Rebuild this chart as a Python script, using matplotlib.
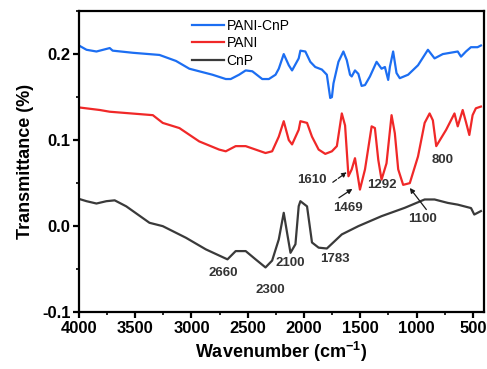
"""FTIR spectra of CnP, PANI and the PANI-CnP composite."""

import matplotlib

matplotlib.use("Agg")
import matplotlib.pyplot as plt  # noqa: E402
from matplotlib.ticker import MultipleLocator  # noqa: E402

pani_cnp_wn = [4000, 3932, 3844, 3726, 3700, 3520, 3284, 3137, 3019, 2931, 2813, 2695, 2651,
               2577, 2518, 2459, 2371, 2312, 2253, 2224, 2180, 2135, 2106, 2047, 2032, 1988,
               1944, 1900, 1841, 1797, 1767, 1752, 1738, 1694, 1650, 1620, 1591, 1576, 1547,
               1517, 1488, 1458, 1414, 1355, 1311, 1281, 1252, 1237, 1208, 1178, 1149, 1075,
               987, 899, 840, 767, 634, 605, 561, 517, 458, 428]
pani_cnp_t = [0.210, 0.205, 0.203, 0.207, 0.204, 0.2015, 0.199, 0.192, 0.183, 0.180, 0.176,
              0.171, 0.171, 0.176, 0.181, 0.180, 0.171, 0.171, 0.176, 0.183, 0.200, 0.187,
              0.181, 0.195, 0.204, 0.203, 0.191, 0.185, 0.182, 0.176, 0.149, 0.150, 0.166,
              0.191, 0.203, 0.193, 0.176, 0.174, 0.181, 0.177, 0.163, 0.164, 0.174, 0.191,
              0.183, 0.185, 0.170, 0.185, 0.203, 0.178, 0.172, 0.176, 0.187, 0.205, 0.195,
              0.200, 0.203, 0.197, 0.203, 0.208, 0.208, 0.210]

pani_wn = [4000, 3814, 3726, 3343, 3255, 3107, 2931, 2754, 2695, 2607, 2518, 2342, 2283,
           2224, 2180, 2135, 2106, 2047, 2032, 1973, 1929, 1870, 1811, 1752, 1708, 1664,
           1635, 1605, 1576, 1547, 1503, 1458, 1399, 1370, 1340, 1311, 1267, 1222, 1193,
           1163, 1119, 1060, 987, 928, 884, 855, 825, 737, 663, 634, 590, 561, 531, 502,
           473, 428]
pani_t = [0.138, 0.135, 0.133, 0.129, 0.120, 0.114, 0.0985, 0.089, 0.087, 0.093, 0.093,
          0.085, 0.087, 0.104, 0.122, 0.100, 0.095, 0.112, 0.122, 0.120, 0.104, 0.089,
          0.084, 0.087, 0.093, 0.131, 0.117, 0.058, 0.066, 0.079, 0.0425, 0.066, 0.116,
          0.114, 0.077, 0.054, 0.073, 0.129, 0.108, 0.066, 0.048, 0.050, 0.081, 0.120,
          0.131, 0.123, 0.093, 0.112, 0.131, 0.116, 0.135, 0.121, 0.106, 0.129, 0.137,
          0.139]

cnp_wn = [4000, 3932, 3844, 3756, 3682, 3579, 3373, 3255, 3049, 2872, 2680, 2607, 2518,
          2430, 2342, 2283, 2224, 2180, 2150, 2120, 2076, 2047, 2032, 1973, 1929, 1870,
          1797, 1664, 1517, 1311, 1105, 928, 840, 722, 634, 516, 487, 428]
cnp_t = [0.0317, 0.029, 0.0263, 0.029, 0.030, 0.023, 0.0039, 0.000, -0.0135, -0.027,
         -0.0386, -0.029, -0.029, -0.0386, -0.048, -0.040, -0.0154, 0.0155, -0.008, -0.031,
         -0.021, 0.0232, 0.029, 0.023, -0.019, -0.025, -0.026, -0.0096, 0.000, 0.0116,
         0.0213, 0.031, 0.031, 0.027, 0.025, 0.021, 0.0135, 0.0175]

# Band labels: (text, x, y)
band_labels = [("2660", 2718, -0.054), ("2300", 2296, -0.0745), ("2100", 2125, -0.0424),
               ("1783", 1721, -0.0378), ("1610", 1929, 0.0533), ("1469", 1611, 0.0213),
               ("1292", 1311, 0.0483), ("1100", 943, 0.0085), ("800", 767, 0.0773)]
# Arrows: (tail x, tail y, head x, head y, linestyle)
band_arrows = [(1744, 0.051, 1620, 0.0626, "--"), (1690, 0.0329, 1570, 0.0433, "-"),
               (913, 0.0193, 1060, 0.0444, "-")]

plt.rcParams.update({
    "font.family": ["Liberation Sans", "DejaVu Sans"],
    "mathtext.fontset": "custom",
    "mathtext.rm": "Liberation Sans",
    "mathtext.bf": "Liberation Sans:bold",
})

fig = plt.figure(figsize=(4.87, 3.69), dpi=100)
ax = fig.add_axes([0.162, 0.154, 0.832, 0.816])

ax.plot(pani_cnp_wn, pani_cnp_t, color="#1c6ef2", lw=1.6, label="PANI-CnP")
ax.plot(pani_wn, pani_t, color="#f02828", lw=1.6, label="PANI")
ax.plot(cnp_wn, cnp_t, color="#3a3a3a", lw=1.6, label="CnP")

for text, x, y in band_labels:
    ax.text(x, y, text, ha="center", va="center", fontsize=9.5, fontweight="bold",
            color="#333333")
for x0, y0, x1, y1, ls in band_arrows:
    ax.annotate("", xy=(x1, y1), xytext=(x0, y0),
                arrowprops=dict(arrowstyle="-|>", color="#1a1a1a", lw=0.9, ls=ls,
                                mutation_scale=7, shrinkA=0, shrinkB=0))

ax.set_xlim(4000, 400)
ax.set_ylim(-0.1, 0.25)
ax.xaxis.set_major_locator(MultipleLocator(500))
ax.xaxis.set_minor_locator(MultipleLocator(250))
ax.yaxis.set_minor_locator(MultipleLocator(0.05))
ax.set_yticks([-0.1, 0.0, 0.1, 0.2])
ax.set_yticklabels(["-0.1", "0.0", "0.1", "0.2"])

for side in ax.spines.values():
    side.set_linewidth(1.6)
ax.tick_params(which="major", direction="out", length=4, width=1.6, labelsize=12, pad=2)
ax.tick_params(which="minor", direction="out", length=2.5, width=1.2)
for lab in ax.get_xticklabels() + ax.get_yticklabels():
    lab.set_fontweight("bold")

ax.set_xlabel(r"Wavenumber (cm$^{\mathbf{-1}}$)", fontsize=13, fontweight="bold", labelpad=3)
ax.set_ylabel("Transmittance (%)", fontsize=13, fontweight="bold", labelpad=6)

ax.legend(loc="upper left", bbox_to_anchor=(0.26, 1.0), frameon=False, fontsize=10,
          handlelength=2.3, handletextpad=0.2, labelspacing=0.25, borderaxespad=0.15)

fig.savefig("out.png", dpi=100)
